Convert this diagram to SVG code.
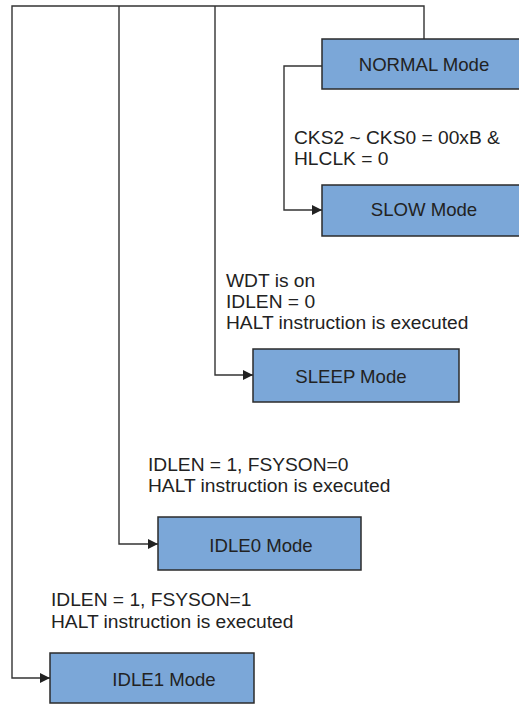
<svg xmlns="http://www.w3.org/2000/svg" width="519" height="705" viewBox="0 0 519 705">
<defs>
<style>
.box{fill:#7ba7d8;stroke:#2b2b2b;stroke-width:1.5}
.bt{font-family:"Liberation Sans",Arial,sans-serif;font-size:18.6px;fill:#222;text-anchor:middle}
.lt{font-family:"Liberation Sans",Arial,sans-serif;font-size:19.2px;fill:#222}
.ln{fill:none;stroke:#333;stroke-width:1.4}
</style>
<marker id="ah" viewBox="0 0 10 10" refX="10" refY="5" markerWidth="11" markerHeight="10" markerUnits="userSpaceOnUse" orient="auto">
<path d="M0,0 L10,5 L0,10 z" fill="#222"/>
</marker>
</defs>
<rect width="519" height="705" fill="#fff"/>
<g id="connectors">
<path class="ln" d="M424,39 V6 H12 V678 H50" marker-end="url(#ah)"/>
<path class="ln" d="M119,6 V544 H158" marker-end="url(#ah)"/>
<path class="ln" d="M215,6 V375 H253" marker-end="url(#ah)"/>
<path class="ln" d="M322,66 H284 V210 H322" marker-end="url(#ah)"/>
</g>
<g id="normal">
<rect class="box" x="322" y="39" width="210" height="50"/>
<text class="bt" x="424" y="70.5">NORMAL Mode</text>
</g>
<g id="slow">
<rect class="box" x="322" y="185" width="210" height="51"/>
<text class="bt" x="424" y="216">SLOW Mode</text>
</g>
<g id="sleep">
<rect class="box" x="253" y="349" width="206" height="53"/>
<text class="bt" x="351" y="383">SLEEP Mode</text>
</g>
<g id="idle0">
<rect class="box" x="158" y="517" width="203" height="53"/>
<text class="bt" x="261" y="552">IDLE0 Mode</text>
</g>
<g id="idle1">
<rect class="box" x="50" y="653" width="204" height="50"/>
<text class="bt" x="164" y="686">IDLE1 Mode</text>
</g>
<g id="labels">
<text class="lt" x="294" y="144">CKS2 ~ CKS0 = 00xB &amp;</text>
<text class="lt" x="294" y="165">HLCLK = 0</text>
<text class="lt" x="226" y="287">WDT is on</text>
<text class="lt" x="226" y="308">IDLEN = 0</text>
<text class="lt" x="226" y="329">HALT instruction is executed</text>
<text class="lt" x="148" y="471">IDLEN = 1, FSYSON=0</text>
<text class="lt" x="148" y="492">HALT instruction is executed</text>
<text class="lt" x="51" y="606">IDLEN = 1, FSYSON=1</text>
<text class="lt" x="51" y="627.5">HALT instruction is executed</text>
</g>
</svg>
